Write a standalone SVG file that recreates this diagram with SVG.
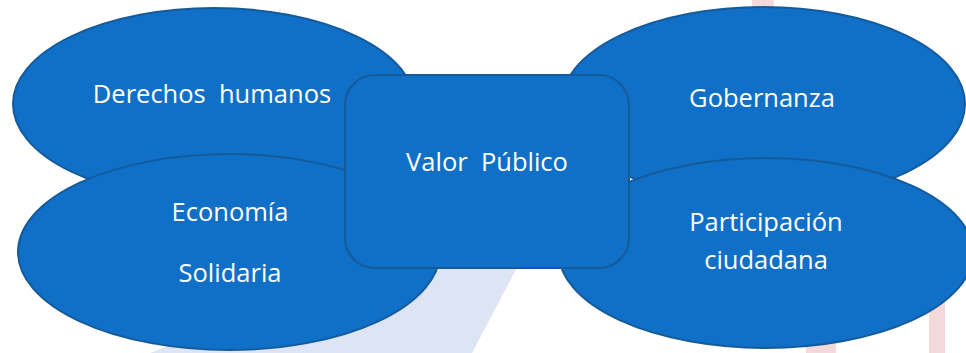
<svg xmlns="http://www.w3.org/2000/svg" width="966" height="353" viewBox="0 0 966 353">
<style>
.node{fill:#106FC6;stroke:#155B9C;stroke-width:2}
.lbl{fill:#FFFFFF;font-family:"Open Sans","Noto Sans","Liberation Sans",sans-serif;font-size:25.5px;text-anchor:middle;white-space:pre}
.pink{fill:#F3D9D9}
</style>
<rect x="0" y="0" width="966" height="353" fill="#FFFFFF"/>
<g id="background">
<polygon points="150,353 380,262 520,262 472,353" fill="#DDE4F3"/>
<rect class="pink" x="752" y="0" width="22" height="12"/>
<rect class="pink" x="806" y="335" width="30" height="18"/>
<rect class="pink" x="929" y="290" width="16" height="63"/>
</g>
<g id="connectors"></g>
<g id="derechos">
<ellipse class="node" cx="214" cy="104" rx="201" ry="96"/>
<text class="lbl" x="212" y="103" xml:space="preserve">Derechos  humanos</text>
</g>
<g id="economia">
<ellipse class="node" cx="229" cy="252" rx="211" ry="98"/>
<text class="lbl" x="230" y="221">Economía</text>
<text class="lbl" x="230" y="282">Solidaria</text>
</g>
<g id="gobernanza">
<ellipse class="node" cx="763" cy="104" rx="202" ry="97"/>
<text class="lbl" x="762" y="107">Gobernanza</text>
</g>
<g id="participacion">
<ellipse class="node" cx="766" cy="253" rx="207" ry="95"/>
<text class="lbl" x="766" y="231">Participación</text>
<text class="lbl" x="766" y="269">ciudadana</text>
</g>
<g id="valor">
<rect class="node" x="345" y="75" width="284" height="193" rx="30" ry="30"/>
<text class="lbl" x="487" y="171" xml:space="preserve">Valor  Público</text>
</g>
</svg>
